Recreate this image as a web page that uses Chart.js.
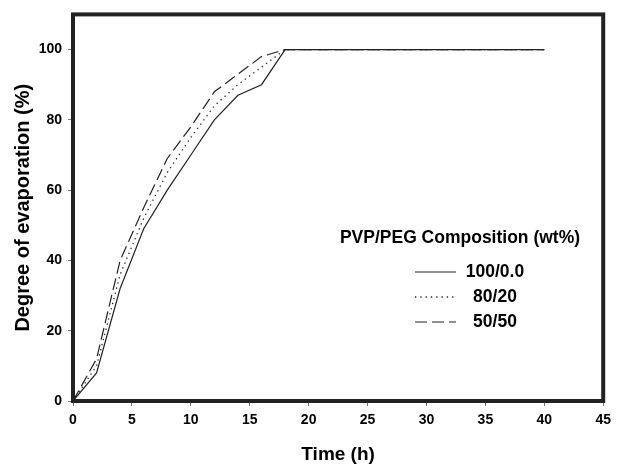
<!DOCTYPE html>
<html>
<head>
<meta charset="utf-8">
<script src="https://cdn.jsdelivr.net/npm/chart.js@4/dist/chart.umd.min.js"></script>
<style>
  html, body { margin: 0; padding: 0; background: #fff; }
  #wrap { width: 617px; height: 467px; }
</style>
</head>
<body>
<div id="wrap"><canvas id="c"></canvas></div>
<script>
// time in hours and degree of evaporation (%) per PVP/PEG composition
const timeH = [0, 2, 4, 6, 8, 10, 12, 14, 16, 18, 40];
const pvp100 = [0, 8, 32, 49, 60, 70, 80, 87, 90, 100, 100];
const pvp80 = [0, 10, 36, 52, 65, 75, 84, 90, 95, 100, 100];
const pvp50 = [0, 12, 40, 55, 69, 78, 88, 93, 98, 100, 100];
const seriesLabels = ['100/0.0', '80/20', '50/50'];
const yTicks = [0, 20, 40, 60, 80, 100];
const legendTitle = 'PVP/PEG Composition (wt%)';

const ink = '#222';
const font = 'Liberation Sans, Arial, sans-serif';

const pts = vals => vals.map((v, i) => ({ x: timeH[i], y: v }));

// frame around the plot area
const framePlugin = {
  id: 'frame',
  afterDraw(chart) {
    const { ctx, chartArea: a } = chart;
    ctx.save();
    ctx.strokeStyle = ink;
    ctx.lineWidth = 4;
    ctx.strokeRect(a.left, a.top, a.right - a.left, a.bottom - a.top);
    ctx.restore();
  }
};

// legend with a title, placed inside the plot
const legendPlugin = {
  id: 'boxLegend',
  afterDraw(chart) {
    const ctx = chart.ctx;
    ctx.save();
    ctx.fillStyle = '#000';
    ctx.font = 'bold 17.5px ' + font;
    ctx.textAlign = 'center';
    ctx.textBaseline = 'middle';
    ctx.fillText(legendTitle, 460, 238);
    chart.data.datasets.forEach((ds, i) => {
      const y = 272 + i * 25;
      ctx.strokeStyle = ds.borderColor;
      ctx.lineWidth = ds.borderWidth;
      ctx.setLineDash(ds.borderDash || []);
      ctx.beginPath();
      ctx.moveTo(415, y);
      ctx.lineTo(456, y);
      ctx.stroke();
      ctx.setLineDash([]);
      ctx.fillText(ds.label, 495, y);
    });
    ctx.restore();
  }
};

new Chart(document.getElementById('c'), {
  type: 'line',
  data: {
    datasets: [
      { label: seriesLabels[0], data: pts(pvp100), borderColor: ink, borderWidth: 1.2, borderDash: [] },
      { label: seriesLabels[1], data: pts(pvp80), borderColor: ink, borderWidth: 1.3, borderDash: [1.3, 4] },
      { label: seriesLabels[2], data: pts(pvp50), borderColor: ink, borderWidth: 1.2, borderDash: [12, 5] }
    ]
  },
  options: {
    responsive: true,
    maintainAspectRatio: false,
    animation: false,
    layout: { padding: { left: 0, right: 10, top: 13, bottom: 0 } },
    elements: { point: { radius: 0 }, line: { tension: 0 } },
    plugins: { legend: { display: false }, tooltip: { enabled: false } },
    scales: {
      x: {
        type: 'linear',
        min: 0,
        max: 45,
        afterFit: s => { s.height = 66; },
        border: { display: false },
        grid: { drawOnChartArea: false, color: '#777', tickLength: 5 },
        ticks: { stepSize: 5, color: '#000', padding: 6, font: { family: font, size: 14, weight: 'bold' } },
        title: { display: true, text: 'Time (h)', color: '#000', padding: { top: 0, bottom: 1 }, font: { family: font, size: 19, weight: 'bold' } }
      },
      y: {
        min: 0,
        max: 110,
        afterFit: s => { s.width = 73; },
        afterBuildTicks: s => { s.ticks = yTicks.map(v => ({ value: v })); },
        border: { display: false },
        grid: { drawOnChartArea: false, color: '#777', tickLength: 5 },
        ticks: { color: '#000', padding: 6, font: { family: font, size: 14, weight: 'bold' } },
        title: { display: true, text: 'Degree of evaporation (%)', color: '#000', padding: { top: 11, bottom: 0 }, font: { family: font, size: 20, weight: 'bold' } }
      }
    }
  },
  plugins: [framePlugin, legendPlugin]
});
</script>
</body>
</html>
